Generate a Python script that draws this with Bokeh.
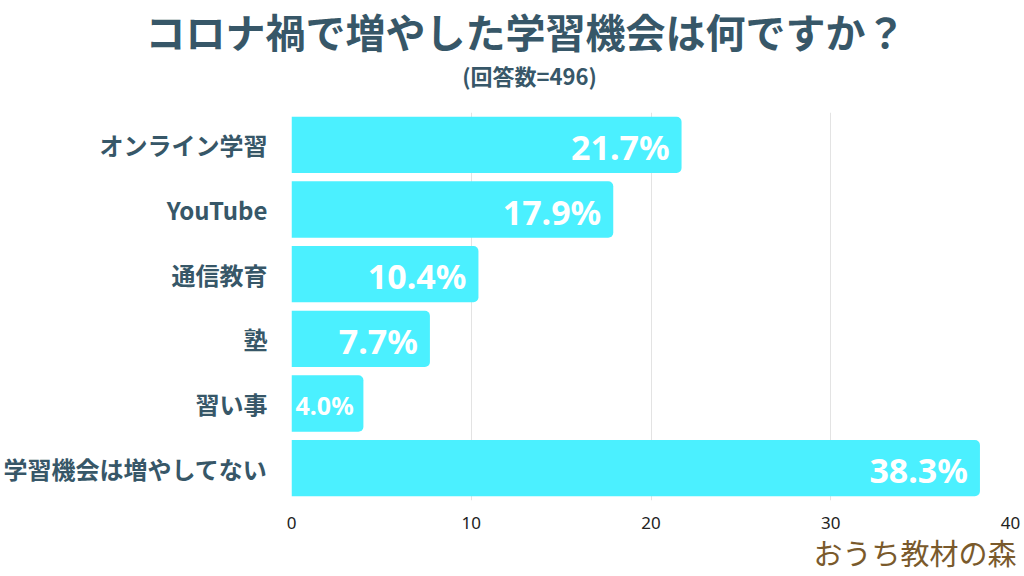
from bokeh.plotting import figure
from bokeh.models import FactorRange, Range1d, Label, FixedTicker, ColumnDataSource
from bokeh.core.properties import value
from bokeh.embed import file_html
from bokeh.resources import INLINE

categories = ["オンライン学習", "YouTube", "通信教育", "塾", "習い事", "学習機会は増やしてない"]
percent = [21.7, 17.9, 10.4, 7.7, 4.0, 38.3]
x_ticks = [0, 10, 20, 30, 40]
title_text = "コロナ禍で増やした学習機会は何ですか？"
subtitle_text = "(回答数=496)"
brand_text = "おうち教材の森"

TEXT_COLOR = "#375768"
BAR_COLOR = "#4BF0FF"
JP = "Noto Sans CJK JP"

labels = [f"{v:.1f}%" for v in percent]
big = [i for i, v in enumerate(percent) if v >= 5]
small = [i for i, v in enumerate(percent) if v < 5]

src_all = ColumnDataSource(dict(cat=categories, val=percent, lab=labels))
src_big = ColumnDataSource(dict(cat=[categories[i] for i in big], val=[percent[i] for i in big], lab=[labels[i] for i in big]))
src_small = ColumnDataSource(dict(cat=[categories[i] for i in small], val=[percent[i] for i in small], lab=[labels[i] for i in small]))

p = figure(width=1024, height=576, output_backend="svg", toolbar_location=None, title=None,
           y_range=FactorRange(factors=list(reversed(categories))),
           x_range=Range1d(0, 40),
           min_border_left=290, min_border_right=14, min_border_top=112, min_border_bottom=76)
p.outline_line_color = None
p.background_fill_color = "white"
p.border_fill_color = "white"

p.hbar(y="cat", right="val", left=0, height=0.87, source=src_all,
       fill_color=BAR_COLOR, line_color=None, border_radius=(0, 5, 5, 0))

p.text(x="val", y="cat", text="lab", source=src_big, x_offset=-12, y_offset=2,
       text_align="right", text_baseline="middle", text_color="white",
       text_font=value("Noto Sans"), text_font_style="bold", text_font_size="34px")
p.text(x=0, y="cat", text="lab", source=src_small, x_offset=4, y_offset=1,
       text_align="left", text_baseline="middle", text_color="white",
       text_font=value("Noto Sans"), text_font_style="bold", text_font_size="25px")

# axes
p.xaxis.ticker = FixedTicker(ticks=x_ticks)
p.xaxis.axis_line_color = None
p.xaxis.major_tick_line_color = None
p.xaxis.minor_tick_line_color = None
p.xaxis.major_label_standoff = 10
p.xaxis.major_label_text_font = "Noto Sans"
p.xaxis.major_label_text_font_size = "17px"
p.xaxis.major_label_text_color = "#222222"

p.yaxis.axis_line_color = None
p.yaxis.major_tick_line_color = None
p.yaxis.minor_tick_line_color = None
p.yaxis.major_label_standoff = 18
p.yaxis.major_label_text_font = JP
p.yaxis.major_label_text_font_style = "bold"
p.yaxis.major_label_text_font_size = "24px"
p.yaxis.major_label_text_color = TEXT_COLOR

p.ygrid.grid_line_color = None
p.xgrid.ticker = FixedTicker(ticks=x_ticks[1:])
p.xgrid.grid_line_color = "#e3e3e3"
p.xgrid.grid_line_width = 1

# texts placed in the side panels (screen units)
p.add_layout(Label(x=234, y=82, x_units="screen", y_units="screen", text=title_text,
                   text_align="center", text_baseline="middle", text_color=TEXT_COLOR,
                   text_font=JP, text_font_style="bold", text_font_size="40px"), "above")
p.add_layout(Label(x=238, y=-20, x_units="screen", y_units="screen", text=subtitle_text,
                   text_align="center", text_baseline="middle", text_color=TEXT_COLOR,
                   text_font=JP, text_font_style="bold", text_font_size="22px"), "above")
p.add_layout(Label(x=725, y=22, x_units="screen", y_units="screen", text=brand_text,
                   text_align="right", text_baseline="middle", text_color="#7a5a2c",
                   text_font=JP, text_font_style="normal", text_font_size="29px"), "below")

open("out.html", "w").write(file_html(p, INLINE))
